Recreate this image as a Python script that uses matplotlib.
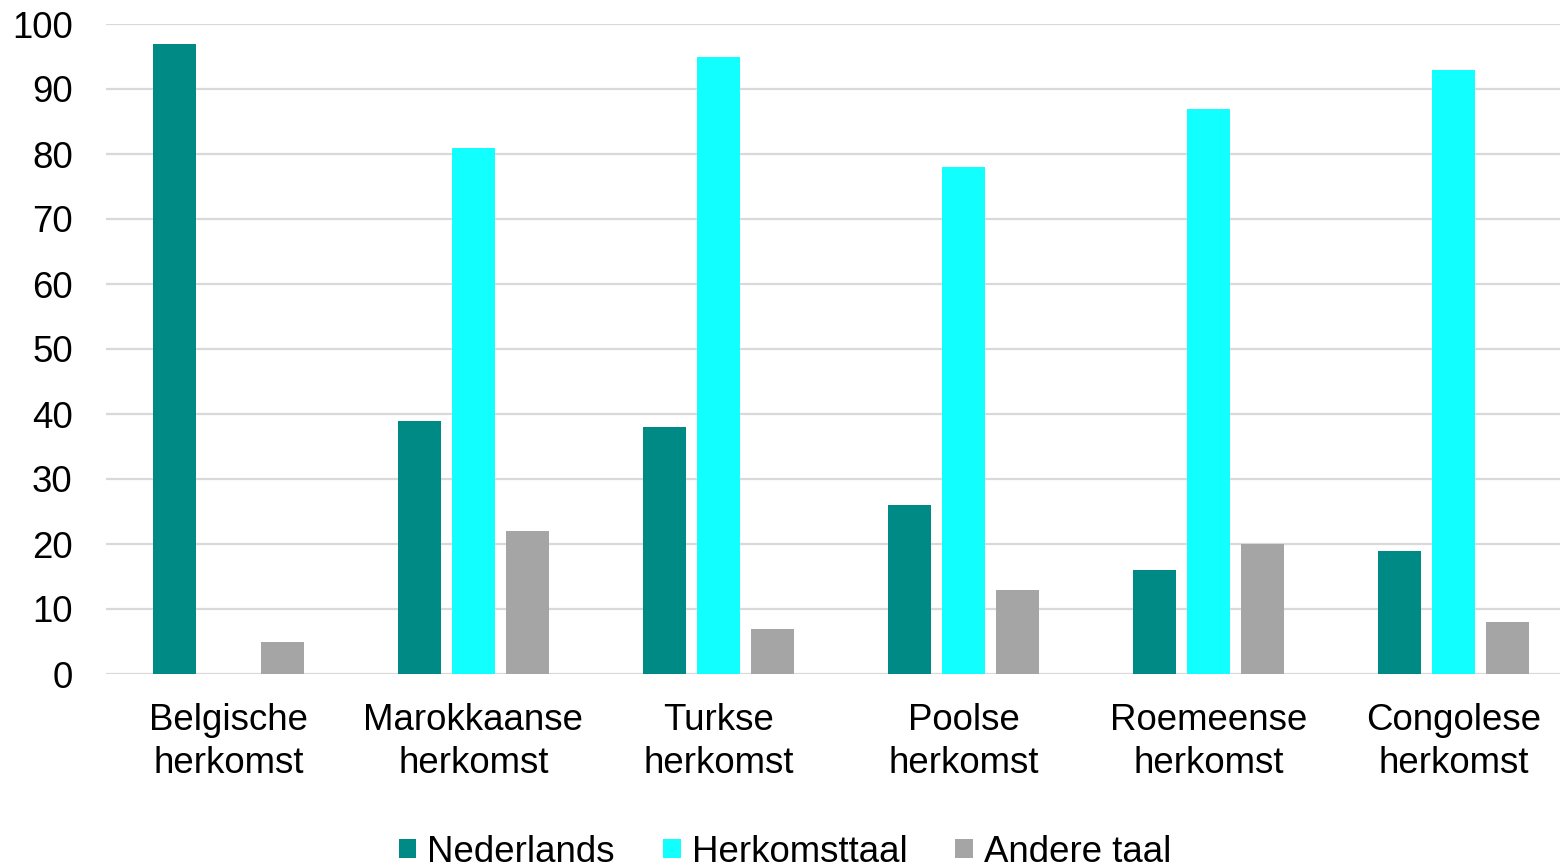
import numpy as np
import matplotlib as mpl

mpl.use('Agg')
import matplotlib.pyplot as plt

plt.rcParams['font.family'] = ['Liberation Sans', 'DejaVu Sans']

categories = ['Belgische\nherkomst', 'Marokkaanse\nherkomst', 'Turkse\nherkomst',
              'Poolse\nherkomst', 'Roemeense\nherkomst', 'Congolese\nherkomst']
nederlands = [97, 39, 38, 26, 16, 19]
herkomsttaal = [0, 81, 95, 78, 87, 93]
andere_taal = [5, 22, 7, 13, 20, 8]

series = [('Nederlands', nederlands, '#008A85'),
          ('Herkomsttaal', herkomsttaal, '#12FFFF'),
          ('Andere taal', andere_taal, '#A5A5A5')]

fs = 26.4
fig = plt.figure(figsize=(15.6, 8.66), dpi=100)
# axes runs a bit past the right edge, as in the (cropped) reference
ax = fig.add_axes([106 / 1560, 192 / 866, 1470 / 1560, 650 / 866])

x = np.arange(len(categories))
step = 0.2224
width = 0.1755
for i, (name, vals, col) in enumerate(series):
    ax.bar(x + (i - 1) * step, vals, width, color=col, label=name, zorder=3)

ax.set_xlim(-0.5, len(categories) - 0.5)
ax.set_ylim(0, 100)
ax.set_yticks(range(0, 101, 10))
ax.yaxis.grid(True, color='#D9D9D9', linewidth=1.6, zorder=0)
ax.set_axisbelow(True)
for s in ax.spines.values():
    s.set_visible(False)
ax.set_xticks(x)
ax.set_xticklabels(categories, fontsize=fs, linespacing=1.3)
ax.tick_params(axis='y', length=0, pad=24, labelsize=fs)
ax.tick_params(axis='x', length=0, pad=21)

fig.legend(loc='center', bbox_to_anchor=(785 / 1560, 1 - 852 / 866), ncol=3,
           frameon=False, fontsize=fs, handlelength=0.49, handleheight=0.45,
           handletextpad=0.3, columnspacing=1.3, borderpad=0, borderaxespad=0)

fig.savefig('out.png', dpi=100)
